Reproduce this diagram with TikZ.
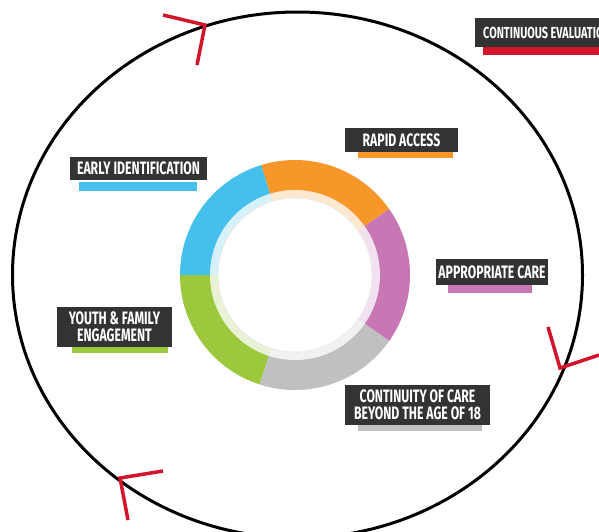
\documentclass[tikz,border=0pt]{standalone}
\usepackage{fontspec}
\newfontfamily\labelfont[FakeStretch=0.68]{Fira Sans}
\definecolor{boxgray}{HTML}{333333}
\definecolor{ringblue}{HTML}{45C0EC}
\definecolor{ringorange}{HTML}{F7972A}
\definecolor{ringpurple}{HTML}{C778B4}
\definecolor{ringgray}{HTML}{C0C0C0}
\definecolor{ringgreen}{HTML}{9BC83D}
\definecolor{arrowred}{HTML}{D2152B}
\tikzset{
  lbl/.style={fill=boxgray, text=white, font=\labelfont\bfseries\fontsize{18}{16.5}\selectfont,
    align=center, inner sep=0pt},
  redtip/.style={draw=arrowred, line width=3.5pt},
}
\begin{document}
\begin{tikzpicture}[x=1pt,y=-1pt]
\useasboundingbox (0,0) rectangle (599,531);
\clip (0,0) rectangle (599,531);
% central ring
\begin{scope}[shift={(295,275)}]
  \foreach \a/\b/\c in {-180/-107/ringblue, -107/-35/ringorange, -35/35/ringpurple, 35/108/ringgray, 108/180/ringgreen}{
    \fill[\c] (\a:115) arc[start angle=\a, end angle=\b, radius=115] -- (\b:77) arc[start angle=\b, end angle=\a, radius=77] -- cycle;
  }
  \fill[white, opacity=0.78] (0,0) circle[radius=85];
  \fill[white] (0,0) circle[radius=77];
  \draw[gray!18, line width=0.6pt] (0,0) circle[radius=77];
\end{scope}
% outer cycle
\draw[line width=3pt] (297.5,275) ellipse[x radius=285, y radius=263];
\draw[redtip] (163,15) -- (205,25) -- (197,65);
\draw[redtip] (548,327) -- (560,368) -- (599,355);
\draw[redtip] (163,471) -- (120,478) -- (128,520);
% labels
\fill[arrowred] (483,44) rectangle (640,55);
\node[lbl, anchor=west, inner xsep=8pt, minimum height=29, font=\labelfont\bfseries\fontsize{16}{16}\selectfont] (ce) at (475,32.5) {CONTINUOUS EVALUATION};
\fill[ringblue] (79,182) rectangle (197,191);
\node[lbl, minimum width=137, minimum height=23] (ei) at (138.5,168.5) {EARLY IDENTIFICATION};
\fill[ringorange] (358,150) rectangle (453,158);
\node[lbl, minimum width=113, minimum height=24] (ra) at (401.5,140) {RAPID ACCESS};
\fill[ringpurple] (448,283) rectangle (532,293);
\node[lbl, minimum width=112, minimum height=26] (ac) at (492,272) {APPROPRIATE CARE};
\fill[ringgreen] (72,345) rectangle (168,353);
\node[lbl, minimum width=115, minimum height=40] (yf) at (114.5,327) {YOUTH \& FAMILY\\ENGAGEMENT};
\fill[ringgray] (358,423) rectangle (482,431);
\node[lbl, minimum width=145, minimum height=40] (cc) at (417.5,405) {CONTINUITY OF CARE\\BEYOND THE AGE OF 18};
\end{tikzpicture}
\end{document}
